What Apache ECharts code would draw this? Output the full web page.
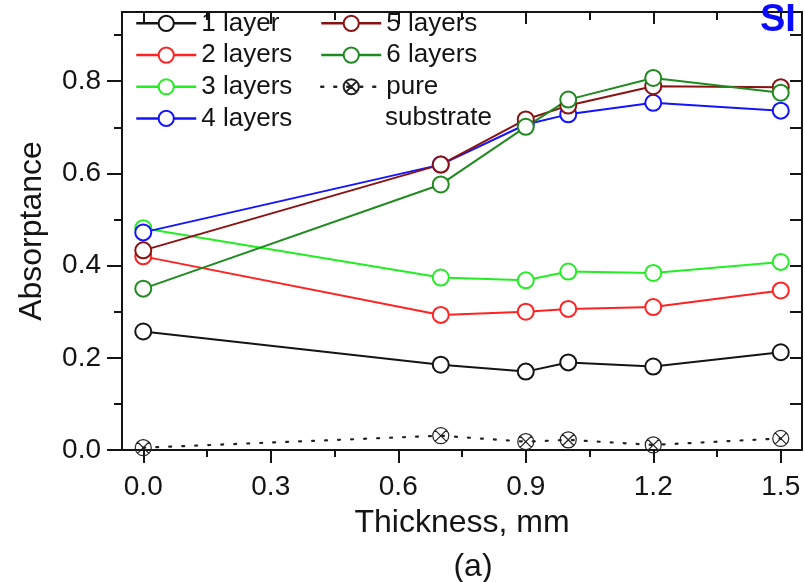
<!DOCTYPE html>
<html><head><meta charset="utf-8">
<script src="https://cdn.jsdelivr.net/npm/echarts@6/dist/echarts.min.js"></script>
<style>html,body{margin:0;padding:0;background:#fff}#c{width:805px;height:582px}</style>
</head><body><div id="c"></div>
<script>
const thickness = [0.0, 0.7, 0.9, 1.0, 1.2, 1.5];
const layer1 = [0.257, 0.185, 0.170, 0.190, 0.181, 0.212];
const layer2 = [0.420, 0.293, 0.300, 0.306, 0.310, 0.346];
const layer3 = [0.481, 0.374, 0.368, 0.387, 0.384, 0.408];
const layer4 = [0.472, 0.619, 0.706, 0.728, 0.753, 0.736];
const layer5 = [0.433, 0.619, 0.717, 0.747, 0.789, 0.787];
const layer6 = [0.350, 0.576, 0.701, 0.760, 0.807, 0.775];
const pureSubstrate = [0.005, 0.031, 0.018, 0.022, 0.011, 0.025];
const seriesNames = ['1 layer', '2 layers', '3 layers', '4 layers', '5 layers', '6 layers', 'pure substrate'];
const xTicks = [0, 0.3, 0.6, 0.9, 1.2, 1.5];
const yTicks = [0, 0.2, 0.4, 0.6, 0.8];

const FONT = '"Liberation Sans", Arial, sans-serif';
const INK = '#141414';
const colors = ['#141414', '#ff2222', '#22ee22', '#1414ff', '#8b1212', '#1f8a1f'];
const layerData = [layer1, layer2, layer3, layer4, layer5, layer6];
const toPts = arr => thickness.map((x, i) => [x, arr[i]]);
const crossCircle = 'path://M20,10 A10,10 0 1,1 0,10 A10,10 0 1,1 20,10 Z M2.93,2.93 L17.07,17.07 M17.07,2.93 L2.93,17.07';

const series = layerData.map((arr, i) => ({
  name: seriesNames[i],
  type: 'line',
  data: toPts(arr),
  symbol: 'emptyCircle',
  symbolSize: 16,
  color: colors[i],
  lineStyle: { width: 2, color: colors[i] },
  itemStyle: { color: colors[i], borderWidth: 1.2 },
  animation: false,
  z: 3
}));
series.push({
  name: seriesNames[6],
  type: 'line',
  data: toPts(pureSubstrate),
  symbol: crossCircle,
  symbolSize: 16,
  lineStyle: { width: 2.2, color: '#222', type: [2, 11], cap: 'round' },
  itemStyle: { color: 'rgba(0,0,0,0)', borderColor: '#222', borderWidth: 1.2 },
  animation: false,
  z: 3
});

const fmt = v => {
  const r = Math.round(v / 0.3) * 0.3;
  return Math.abs(v - r) < 1e-6 && v > -1e-6 ? v.toFixed(1) : '';
};
const axisLine = { show: true, onZero: false, lineStyle: { color: INK, width: 2 } };

const legendBase = {
  orient: 'vertical', top: 7.5, itemWidth: 60, itemHeight: 19, itemGap: 0, padding: 0,
  lineStyle: { width: 2.5 },
  textStyle: { fontSize: 26, lineHeight: 31.7, color: INK, fontFamily: FONT },
  selectedMode: false
};

const option = {
  backgroundColor: '#fff',
  animation: false,
  textStyle: { fontFamily: FONT },
  grid: { left: 122, right: 3, top: 12, bottom: 132, containLabel: false, outerBoundsMode: 'none' },
  legend: [
    Object.assign({}, legendBase, { left: 135, data: seriesNames.slice(0, 4) }),
    Object.assign({}, legendBase, { left: 320, data: seriesNames.slice(4),
      formatter: n => n === 'pure substrate' ? 'pure' : n })
  ],
  xAxis: [{
    type: 'value', position: 'bottom', min: -0.05, max: 1.55, minInterval: 0.3, maxInterval: 0.3, splitNumber: 5,
    axisLine: axisLine,
    axisTick: { show: true, length: 13, customValues: xTicks, lineStyle: { color: INK, width: 2 } },
    minorTick: { show: true, splitNumber: 2, length: 7, lineStyle: { color: INK, width: 2 } },
    axisLabel: { customValues: xTicks, formatter: fmt, fontSize: 28, margin: 23, color: INK, fontFamily: FONT },
    splitLine: { show: false },
    name: 'Thickness, mm', nameLocation: 'middle', nameGap: 57,
    nameTextStyle: { fontSize: 32, color: INK, fontFamily: FONT }
  }, {
    type: 'value', position: 'top', min: -0.05, max: 1.55, minInterval: 0.3, maxInterval: 0.3, splitNumber: 5,
    axisLine: axisLine,
    axisTick: { show: true, inside: true, length: 12, customValues: xTicks, lineStyle: { color: INK, width: 2 } },
    minorTick: { show: true, splitNumber: 2, length: 8, lineStyle: { color: INK, width: 2 } },
    axisLabel: { show: false },
    splitLine: { show: false }
  }],
  yAxis: [{
    type: 'value', position: 'left', min: 0, max: 0.95, interval: 0.2,
    axisLine: axisLine,
    axisTick: { show: true, length: 15, customValues: yTicks, lineStyle: { color: INK, width: 2 } },
    minorTick: { show: true, splitNumber: 2, length: 8, lineStyle: { color: INK, width: 2 } },
    axisLabel: { customValues: yTicks, formatter: v => v.toFixed(1), fontSize: 28, margin: 21, color: INK, fontFamily: FONT },
    splitLine: { show: false },
    name: 'Absorptance', nameLocation: 'middle', nameGap: 74,
    nameTextStyle: { fontSize: 32, color: INK, fontFamily: FONT }
  }, {
    type: 'value', position: 'right', min: 0, max: 0.95, interval: 0.2,
    axisLine: axisLine,
    axisTick: { show: true, inside: true, length: 12, customValues: yTicks, lineStyle: { color: INK, width: 2 } },
    minorTick: { show: true, splitNumber: 2, length: 12, lineStyle: { color: INK, width: 2 } },
    axisLabel: { show: false },
    splitLine: { show: false }
  }],
  graphic: [
    { type: 'text', x: 385, y: 118.3, z: 10,
      style: { text: 'substrate', font: '26px ' + FONT, fill: INK, verticalAlign: 'middle' } },
    { type: 'text', x: 473, y: 567, z: 10,
      style: { text: '(a)', font: '32px ' + FONT, fill: INK, align: 'center', verticalAlign: 'middle' } },
    { type: 'text', x: 760, y: 21, z: 100,
      style: { text: 'SI', font: 'bold 38px ' + FONT, fill: '#0a0aff', verticalAlign: 'middle' } }
  ],
  series: series
};

const chart = echarts.init(document.getElementById('c'), null, { renderer: 'canvas' });
chart.setOption(option);
</script>
</body></html>
